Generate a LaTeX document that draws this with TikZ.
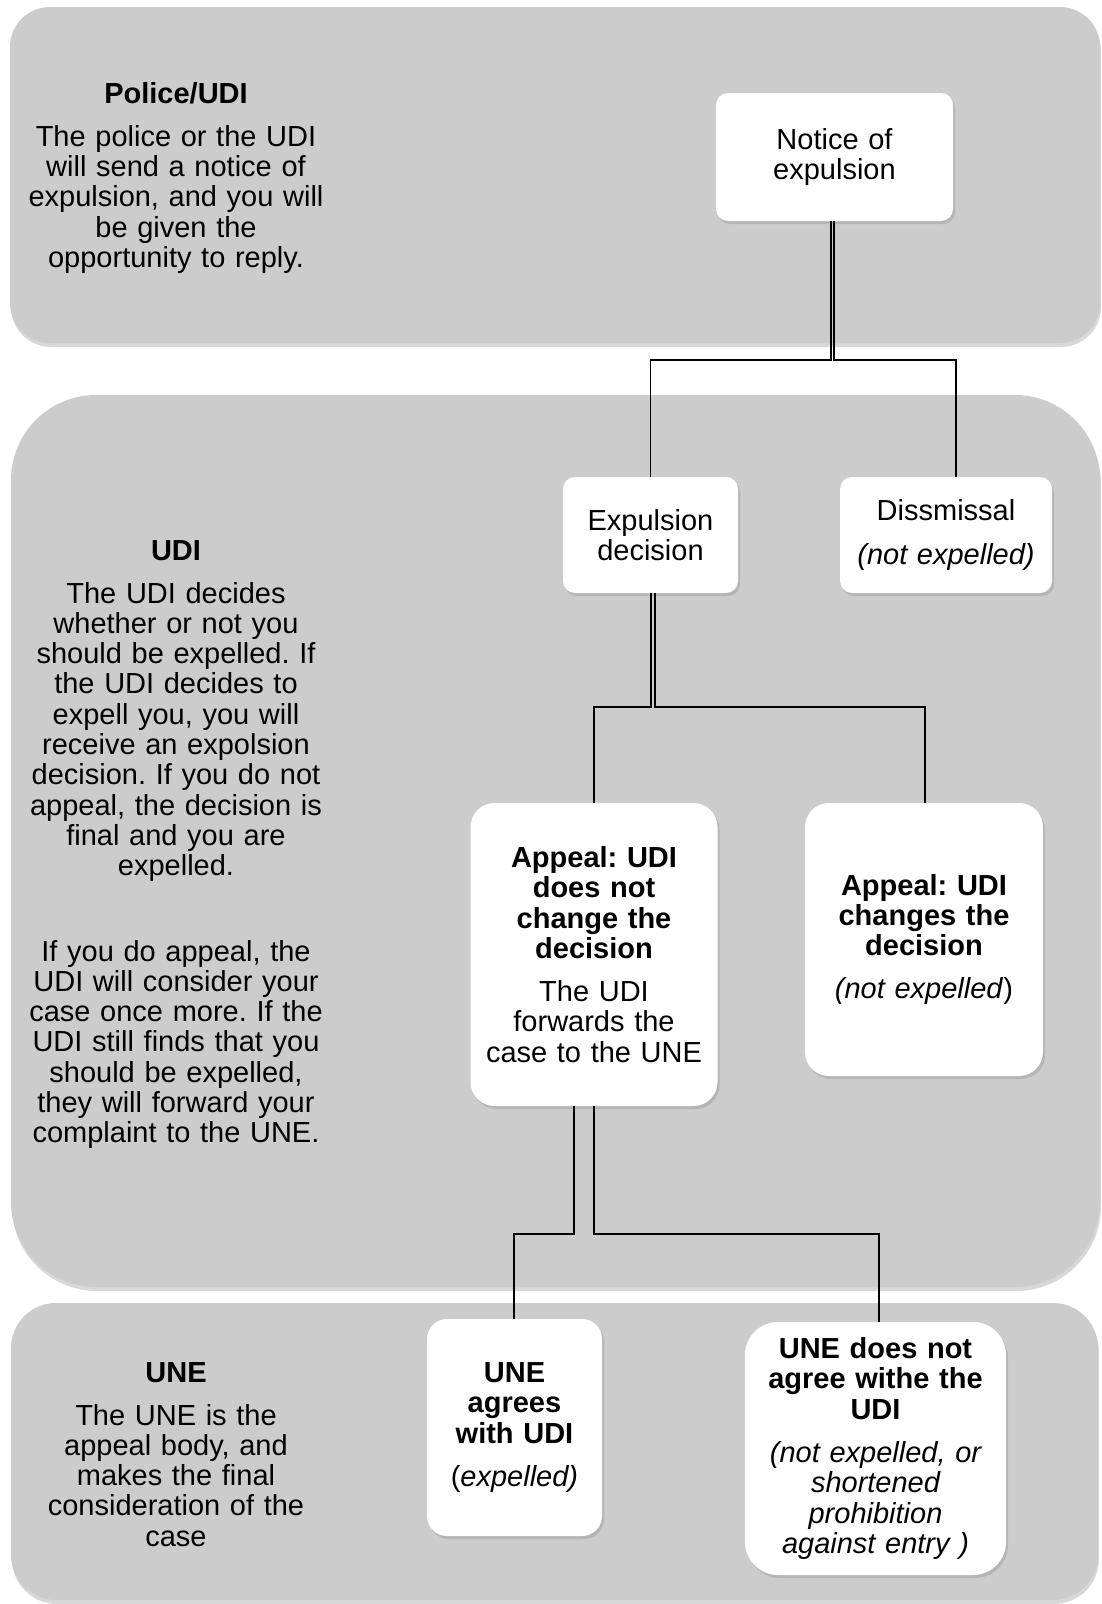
\documentclass[tikz,border=0pt]{standalone}
\usepackage{fontspec}
\setmainfont{Liberation Sans}
\usepackage{tikz}
\usetikzlibrary{shadows}
\usepackage{xcolor}
\definecolor{laneGray}{RGB}{204,204,204}
\frenchspacing

\begin{document}
\begin{tikzpicture}
		[x=1pt,y=-1pt,
		laneDecorate/.style={shape=rectangle,fill=laneGray,inner sep=0pt,%
			drop shadow={opacity=0.3,shadow xshift=1pt,shadow yshift=-4pt}},
		boxDecorate/.style={shape=rectangle,fill=white,inner sep=0pt,align=center,%
			font=\fontsize{29}{30.3}\selectfont,%
			drop shadow={opacity=0.3,shadow xshift=2pt,shadow yshift=-3pt}},
		infoDecorate/.style={anchor=north,inner sep=0pt,align=center,text width=320pt,%
			font=\fontsize{29}{30.3}\selectfont},
		wireDecorate/.style={-,line width=1.5pt}]
		\path[use as bounding box,fill=white] (0,0) rectangle (1101,1604);
		%% lanes (grey panels)
		\foreach \lanename/\x/\y/\w/\h/\r in {
			laneA/555/175/1090/336/40, laneB/555.5/841/1089/892/85, laneC/554.5/1451.5/1087/297/45}
		{
			\node (\lanename) at (\x,\y) [laneDecorate,minimum width=\w pt,minimum height=\h pt,rounded corners=\r pt] {};
		}
		%% lane texts
		\node (policeInfo) at (176,82) [infoDecorate] {\textbf{Police/UDI}\\[12.6pt]The police or the UDI\\will send a notice of\\expulsion, and you will\\be given the\\opportunity to reply.};
		\node (udiInfo) at (176,540) [infoDecorate] {\textbf{UDI}\\[12.6pt]The UDI decides\\whether or not you\\should be expelled. If\\the UDI decides to\\expell you, you will\\receive an expolsion\\decision. If you do not\\appeal, the decision is\\final and you are\\expelled.\\[55pt]If you do appeal, the\\UDI will consider your\\case once more. If the\\UDI still finds that you\\should be expelled,\\they will forward your\\complaint to the UNE.};
		\node (uneInfo) at (176,1362) [infoDecorate] {\textbf{UNE}\\[12.6pt]The UNE is the\\appeal body, and\\makes the final\\consideration of the\\case};
		%% boxes
		\foreach \nodename/\x/\y/\w/\h/\r/\txt in {
			notice/834.5/157/237/128/12/{Notice of\\expulsion},
			expdec/650.5/535/175/116/12/{Expulsion\\decision},
			dism/946/535/212/116/12/{Dissmissal\\[13pt]\textit{(not expelled)}},
			appno/594/954.5/247/303/24/{\textbf{Appeal: UDI\\does not\\change the\\decision}\\[13pt]The UDI\\forwards the\\case to the UNE},
			appyes/924/939.5/238/273/24/{\textbf{Appeal: UDI\\changes the\\decision}\\[13pt]\textit{(not expelled})},
			uneyes/514.5/1427.5/175/217/20/{\textbf{UNE\\agrees\\with UDI}\\[13pt](\textit{expelled)}},
			uneno/875.5/1448.5/261/253/33/{\textbf{UNE does not\\agree withe the\\UDI}\\[13pt]\textit{(not expelled, or\\shortened\\prohibition\\against entry )}}}
		{
			\node (\nodename) at (\x,\y) [boxDecorate,minimum width=\w pt,minimum height=\h pt,text width=\w pt,rounded corners=\r pt] {\txt};
		}
		%% connectors
		\foreach \src/\dst/\sx/\tx/\drop in {
			notice/expdec/-3.5/0/139, notice/dism/-0.5/10/139,
			expdec/appno/0.5/0/114, expdec/appyes/4.5/1/114,
			appno/uneyes/-20/-0.5/128, appno/uneno/0/3.5/128}
		{
			\draw[wireDecorate] ([xshift=\sx pt]\src.south) -- ++(0,\drop) -| ([xshift=\tx pt]\dst.north);
		}
	\end{tikzpicture}
\end{document}
